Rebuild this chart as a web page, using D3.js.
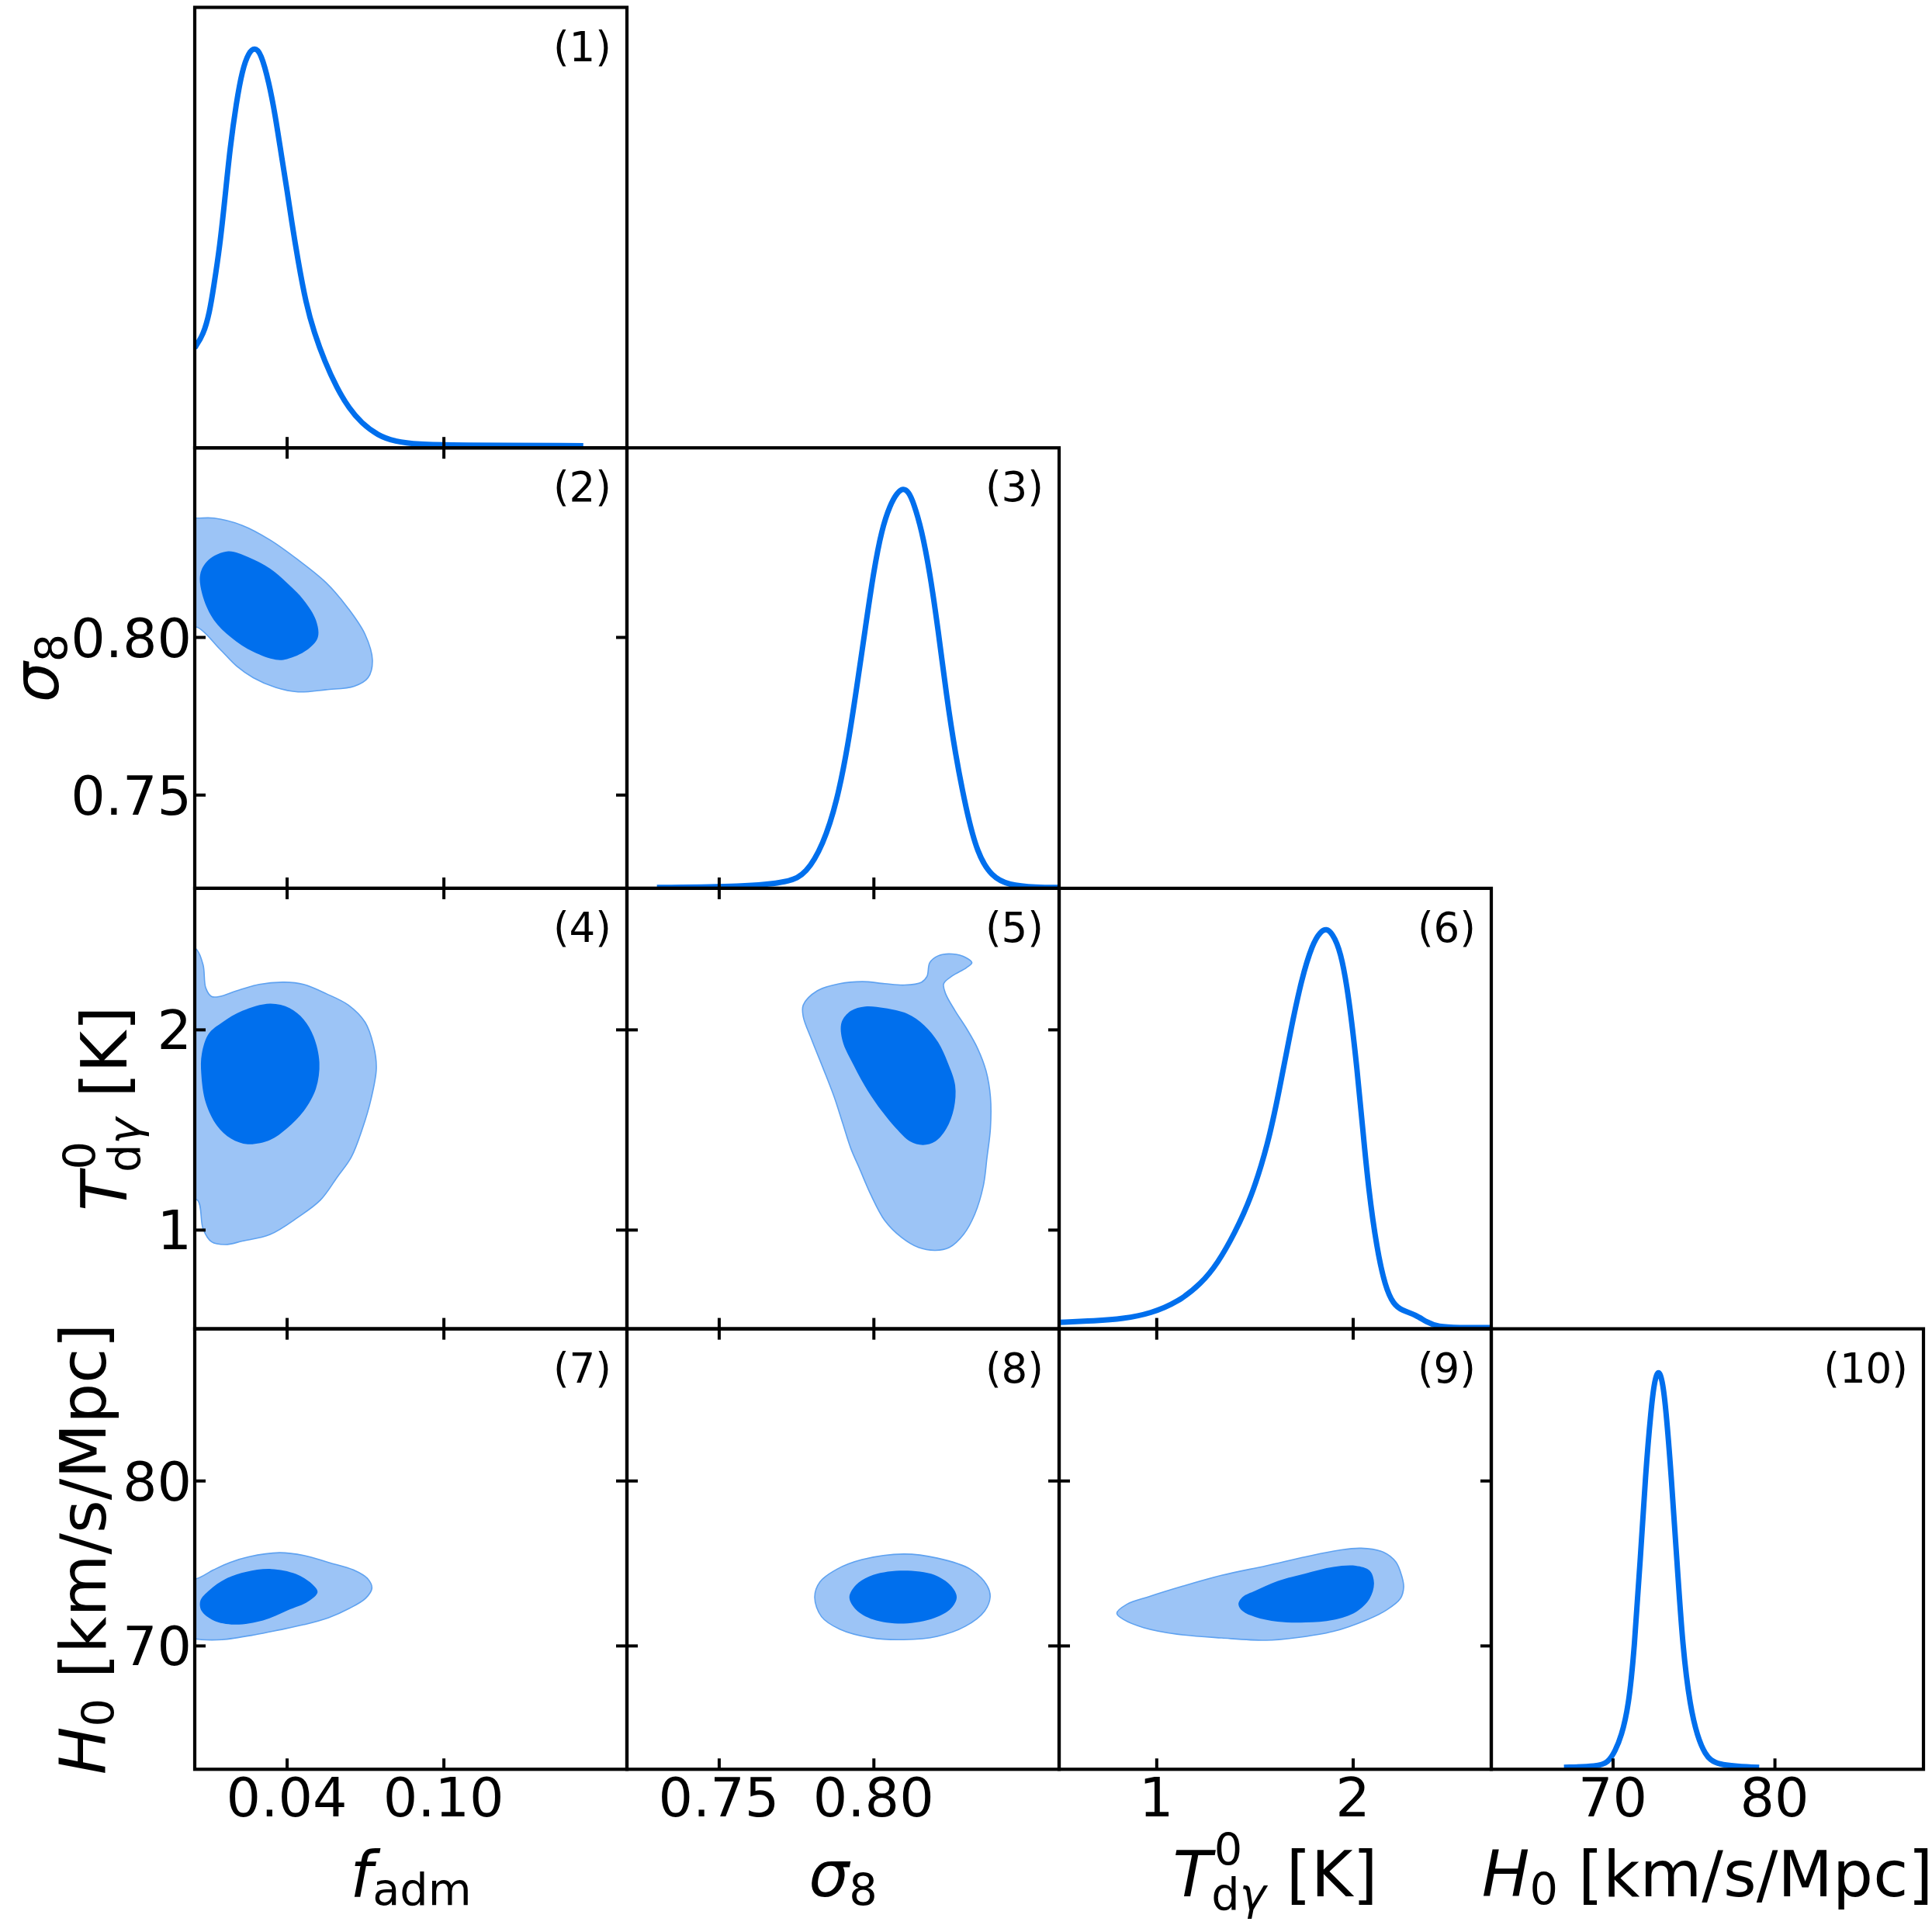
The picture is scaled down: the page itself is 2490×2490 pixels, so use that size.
<!DOCTYPE html>
<html>
<head>
<meta charset="utf-8">
<script src="https://cdn.jsdelivr.net/npm/d3@7"></script>
<style>body{margin:0;background:#fff}</style>
</head>
<body>
<script>
// parameter ranges, ticks
var paramRanges = [[0.0048, 0.1702], [0.7203, 0.8600], [0.505, 2.705], [62.5, 89.2]];
var paramTicks = [[0.04, 0.10], [0.75, 0.80], [1, 2], [70, 80]];
var paramTickText = [["0.04", "0.10"], ["0.75", "0.80"], ["1", "2"], ["70", "80"]];
var panelTags = ["(1)", "(2)", "(3)", "(4)", "(5)", "(6)", "(7)", "(8)", "(9)", "(10)"];

// 1D marginals (normalised to peak = 1)
var pdfFadm = [[0.0048,0.250],[0.0081,0.282],[0.0105,0.339],[0.0120,0.400],[0.0144,0.503],[0.0164,0.626],
  [0.0183,0.749],[0.0207,0.862],[0.0230,0.944],[0.0254,0.987],[0.0277,1.0],[0.0301,0.987],[0.0332,0.913],
  [0.0356,0.831],[0.0380,0.729],[0.0403,0.636],[0.0419,0.565],[0.0442,0.472],[0.0474,0.359],[0.0505,0.288],
  [0.0545,0.216],[0.0592,0.149],[0.0639,0.098],[0.0686,0.062],[0.0749,0.031],[0.0812,0.016],[0.0906,0.0085],
  [0.1032,0.0066],[0.1535,0.0054]];
var pdfSigma8 = [[0.7300,0.002],[0.7582,0.004],[0.7727,0.015],[0.7782,0.036],[0.7837,0.108],[0.7882,0.216],
  [0.7918,0.359],[0.7946,0.503],[0.7973,0.646],[0.8000,0.790],[0.8027,0.898],[0.8054,0.958],[0.8076,0.988],
  [0.8096,1.0],[0.8114,0.990],[0.8130,0.962],[0.8155,0.898],[0.8182,0.790],[0.8209,0.646],[0.8236,0.481],
  [0.8264,0.338],[0.8300,0.194],[0.8336,0.086],[0.8382,0.029],[0.8436,0.008],[0.8527,0.002],[0.8600,0.002]];
var pdfT = [[0.505,0.016],[0.688,0.020],[0.830,0.025],[0.972,0.038],[1.114,0.068],[1.227,0.112],[1.313,0.164],
  [1.398,0.238],[1.483,0.327],[1.568,0.460],[1.625,0.593],[1.682,0.741],[1.739,0.874],[1.795,0.962],[1.835,0.992],
  [1.866,1.0],[1.895,0.988],[1.938,0.945],[1.980,0.830],[2.023,0.645],[2.051,0.497],[2.080,0.349],[2.122,0.201],
  [2.165,0.105],[2.207,0.061],[2.250,0.046],[2.321,0.035],[2.378,0.016],[2.434,0.005],[2.534,0.003],[2.705,0.003]];
var pdfH0 = [[66.99,0.005],[69.07,0.007],[69.71,0.016],[70.16,0.046],[70.53,0.082],[70.98,0.155],[71.34,0.301],
  [71.70,0.520],[72.03,0.739],[72.37,0.900],[72.58,0.970],[72.83,1.0],[73.08,0.970],[73.29,0.900],[73.61,0.739],
  [73.97,0.520],[74.33,0.301],[74.79,0.155],[75.24,0.082],[75.69,0.038],[76.33,0.009],[79.05,0.005]];

// 2D contours: outer (95%) and inner (68%)
var fadmSigma8Outer = [[0.0058,0.8377],[0.0122,0.8377],[0.0230,0.8354],[0.0336,0.8308],[0.0443,0.8245],
  [0.0551,0.8172],[0.0636,0.8090],[0.0700,0.8008],[0.0728,0.7926],[0.0711,0.7871],[0.0658,0.7844],[0.0551,0.7833],
  [0.0443,0.7826],[0.0358,0.7840],[0.0272,0.7871],[0.0208,0.7908],[0.0144,0.7962],[0.0058,0.8031],
  [0.0,0.8031],[0.0,0.8377]];
var fadmSigma8Inner = [[0.0176,0.8272],[0.0251,0.8254],[0.0336,0.8217],[0.0401,0.8172],[0.0465,0.8117],
  [0.0512,0.8053],[0.0519,0.7999],[0.0476,0.7958],[0.0401,0.7930],[0.0358,0.7928],[0.0272,0.7953],[0.0187,0.7999],
  [0.0122,0.8053],[0.0080,0.8126],[0.0069,0.8199],[0.0101,0.8245]];
var fadmTOuter = [[0.0054,2.401],[0.0080,2.322],[0.0090,2.208],[0.0112,2.165],[0.0144,2.165],[0.0208,2.193],
  [0.0294,2.225],[0.0390,2.236],[0.0465,2.225],[0.0551,2.179],[0.0636,2.122],[0.0700,2.036],[0.0732,1.921],
  [0.0743,1.807],[0.0722,1.649],[0.0690,1.506],[0.0647,1.362],[0.0593,1.262],[0.0529,1.148],[0.0443,1.062],
  [0.0336,0.976],[0.0230,0.943],[0.0165,0.926],[0.0112,0.940],[0.0080,1.004],[0.0058,1.148],
  [0.0,1.148],[0.0,2.43]];
var fadmTInner = [[0.0336,2.129],[0.0411,2.107],[0.0465,2.050],[0.0503,1.964],[0.0525,1.835],[0.0512,1.706],
  [0.0465,1.592],[0.0401,1.506],[0.0336,1.448],[0.0251,1.427],[0.0187,1.455],[0.0133,1.520],[0.0090,1.635],
  [0.0073,1.778],[0.0075,1.878],[0.0101,1.978],[0.0154,2.036],[0.0230,2.093]];
var sigma8TOuter = [[0.7773,2.122],[0.7818,2.193],[0.7891,2.229],[0.7964,2.239],[0.8036,2.229],[0.8100,2.222],
  [0.8155,2.236],[0.8173,2.265],[0.8182,2.334],[0.8209,2.368],[0.8255,2.377],[0.8300,2.358],[0.8318,2.334],
  [0.8300,2.308],[0.8255,2.268],[0.8227,2.229],[0.8233,2.179],[0.8264,2.093],[0.8300,2.007],[0.8336,1.907],
  [0.8364,1.792],[0.8378,1.663],[0.8378,1.506],[0.8367,1.362],[0.8355,1.219],[0.8327,1.076],[0.8291,0.976],
  [0.8245,0.911],[0.8200,0.897],[0.8146,0.911],[0.8091,0.961],[0.8036,1.047],[0.7991,1.176],[0.7955,1.305],
  [0.7927,1.405],[0.7900,1.534],[0.7873,1.663],[0.7837,1.807],[0.7800,1.950],[0.7773,2.064]];
var sigma8TInner = [[0.7973,2.115],[0.8036,2.107],[0.8109,2.079],[0.8164,2.021],[0.8209,1.936],[0.8240,1.835],
  [0.8264,1.721],[0.8260,1.606],[0.8236,1.506],[0.8200,1.441],[0.8160,1.423],[0.8118,1.441],[0.8073,1.506],
  [0.8027,1.592],[0.7982,1.692],[0.7936,1.821],[0.7900,1.943],[0.7897,2.036],[0.7927,2.093]];
var fadmH0Outer = [[0.0054,74.05],[0.0120,74.59],[0.0183,75.04],[0.0254,75.38],[0.0372,75.63],[0.0466,75.46],
  [0.0560,75.04],[0.0655,74.59],[0.0710,74.05],[0.0726,73.48],[0.0702,72.87],[0.0639,72.25],[0.0560,71.69],
  [0.0466,71.27],[0.0372,70.95],[0.0277,70.65],[0.0152,70.36],[0.0073,70.36],[0.0054,70.40],
  [0.0,70.40],[0.0,74.05]];
var fadmH0Inner = [[0.0104,73.36],[0.0167,74.05],[0.0246,74.47],[0.0340,74.64],[0.0435,74.34],[0.0497,73.73],
  [0.0518,73.24],[0.0482,72.67],[0.0403,72.13],[0.0309,71.52],[0.0199,71.27],[0.0120,71.52],[0.0073,72.13],
  [0.0070,72.74]];
var sigma8H0Outer = [[0.7810,72.93],[0.7827,73.86],[0.7881,74.62],[0.7963,75.21],[0.8098,75.55],[0.8206,75.30],
  [0.8314,74.62],[0.8368,73.61],[0.8377,72.93],[0.8359,72.09],[0.8296,71.16],[0.8206,70.56],[0.8098,70.36],
  [0.7990,70.48],[0.7891,70.99],[0.7832,71.75]];
var sigma8H0Inner = [[0.7922,72.93],[0.7944,73.69],[0.7999,74.28],[0.8098,74.54],[0.8197,74.28],[0.8251,73.61],
  [0.8269,72.93],[0.8251,72.26],[0.8197,71.67],[0.8098,71.33],[0.7999,71.58],[0.7944,72.17]];
var TH0Outer = [[0.799,71.96],[0.850,72.50],[0.963,72.97],[1.134,73.60],[1.333,74.26],[1.560,74.84],[1.759,75.38],
  [1.929,75.78],[2.043,75.90],[2.156,75.66],[2.219,75.07],[2.248,74.26],[2.259,73.55],[2.242,72.85],[2.171,72.15],
  [2.071,71.56],[1.901,70.86],[1.702,70.46],[1.560,70.32],[1.333,70.46],[1.105,70.69],[0.935,71.09],[0.836,71.56]];
var TH0Inner = [[1.418,72.50],[1.440,72.95],[1.503,73.32],[1.617,73.91],[1.759,74.37],[1.901,74.77],[2.015,74.84],
  [2.086,74.54],[2.108,73.79],[2.086,72.85],[2.015,72.03],[1.901,71.56],[1.759,71.40],[1.617,71.45],[1.503,71.73],
  [1.440,72.08]];

var pdfs = [pdfFadm, pdfSigma8, pdfT, pdfH0];
var contours = {
  "1,0": [fadmSigma8Outer, fadmSigma8Inner],
  "2,0": [fadmTOuter, fadmTInner],
  "2,1": [sigma8TOuter, sigma8TInner],
  "3,0": [fadmH0Outer, fadmH0Inner],
  "3,1": [sigma8H0Outer, sigma8H0Inner],
  "3,2": [TH0Outer, TH0Inner]
};

// layout
var W = 2490, H = 2490;
var left = 251, top0 = 9.5, cellW = 557, cellH = 567.7;
var font = "DejaVu Sans";
var tickLen = 14, frameW = 4.2;
var lineBlue = "#006FED", outerFill = "#9CC4F6", outerEdge = "#5FA2F0";

var svg = d3.select("body").append("svg")
  .attr("width", W).attr("height", H)
  .style("display", "block");

function styleAxis(ag) {
  ag.select(".domain").remove();
  ag.selectAll(".tick line").attr("stroke", "#000").attr("stroke-width", 4);
  ag.selectAll(".tick text").remove();
}

var tagIndex = 0;
for (var i = 0; i < 4; i++) {
  for (var j = 0; j <= i; j++) {
    var g = svg.append("g")
      .attr("transform", "translate(" + (left + j * cellW) + "," + (top0 + i * cellH) + ")");
    var x = d3.scaleLinear().domain(paramRanges[j]).range([0, cellW]);
    var y;
    var clipId = "clip" + i + "_" + j;
    g.append("clipPath").attr("id", clipId)
      .append("rect").attr("width", cellW).attr("height", cellH);
    var body = g.append("g").attr("clip-path", "url(#" + clipId + ")");

    if (i === j) {
      y = d3.scaleLinear().domain([0, 1.1]).range([cellH, 0]);
      var line = d3.line()
        .x(function(d) { return x(d[0]); })
        .y(function(d) { return y(d[1]); })
        .curve(d3.curveBasis);
      body.append("path").datum(pdfs[i])
        .attr("d", line)
        .attr("fill", "none")
        .attr("stroke", lineBlue)
        .attr("stroke-width", 7)
        .attr("stroke-linejoin", "round");
    } else {
      y = d3.scaleLinear().domain(paramRanges[i]).range([cellH, 0]);
      var shape = d3.line()
        .x(function(d) { return x(d[0]); })
        .y(function(d) { return y(d[1]); })
        .curve(d3.curveCatmullRomClosed.alpha(0.5));
      var pair = contours[i + "," + j];
      body.append("path").datum(pair[0])
        .attr("d", shape)
        .attr("fill", outerFill)
        .attr("stroke", outerEdge)
        .attr("stroke-width", 1.6);
      body.append("path").datum(pair[1])
        .attr("d", shape)
        .attr("fill", lineBlue);
    }

    // ticks, pointing inwards
    var ab = g.append("g").attr("transform", "translate(0," + cellH + ")")
      .call(d3.axisBottom(x).tickValues(paramTicks[j]).tickSizeInner(-tickLen).tickSizeOuter(0));
    styleAxis(ab);
    if (i !== j) {
      var at = g.append("g")
        .call(d3.axisTop(x).tickValues(paramTicks[j]).tickSizeInner(-tickLen).tickSizeOuter(0));
      styleAxis(at);
      var al = g.append("g")
        .call(d3.axisLeft(y).tickValues(paramTicks[i]).tickSizeInner(-tickLen).tickSizeOuter(0));
      styleAxis(al);
      var ar = g.append("g").attr("transform", "translate(" + cellW + ",0)")
        .call(d3.axisRight(y).tickValues(paramTicks[i]).tickSizeInner(-tickLen).tickSizeOuter(0));
      styleAxis(ar);
    }

    // tick labels on the outer edge only
    if (i === 3) {
      paramTicks[j].forEach(function(v, k) {
        g.append("text")
          .attr("x", x(v)).attr("y", cellH + 61)
          .attr("text-anchor", "middle")
          .attr("font-family", font).attr("font-size", 70)
          .text(paramTickText[j][k]);
      });
    }
    if (j === 0 && i > 0) {
      paramTicks[i].forEach(function(v, k) {
        g.append("text")
          .attr("x", -4).attr("y", y(v) + 25.5)
          .attr("text-anchor", "end")
          .attr("font-family", font).attr("font-size", 70)
          .text(paramTickText[i][k]);
      });
    }

    g.append("rect")
      .attr("width", cellW).attr("height", cellH)
      .attr("fill", "none").attr("stroke", "#000").attr("stroke-width", frameW);

    g.append("text")
      .attr("x", cellW - 20).attr("y", 69)
      .attr("text-anchor", "end")
      .attr("font-family", font).attr("font-size", 53)
      .text(panelTags[tagIndex++]);
  }
}

// axis labels built from pieces (italic symbols, sub/superscripts)
var labelSize = 82;
function mathLabel(sel, parts) {
  var t = sel.append("text")
    .attr("font-family", font).attr("font-size", labelSize).attr("fill", "#000");
  parts.forEach(function(p) {
    var s = t.append("tspan").text(p.t);
    if (p.it) s.attr("font-style", "italic");
    if (p.small) s.attr("font-size", labelSize * 0.7);
    if (p.dy) s.attr("dy", p.dy);
    if (p.dx) s.attr("dx", p.dx);
  });
  var b = t.node().getBBox();
  t.attr("x", -b.x - b.width / 2);
  return t;
}

var labelParts = [
  [{t: "f", it: 1}, {t: "adm", small: 1, dy: 11}],
  [{t: "\u03c3", it: 1}, {t: "8", small: 1, dy: 12}],
  [{t: "T", it: 1}, {t: "0", small: 1, dy: -40, dx: 3}, {t: "d", small: 1, dy: 57, dx: -40},
   {t: "\u03b3", small: 1, it: 1}, {t: "\u00a0[K]", dy: -17}],
  [{t: "H", it: 1}, {t: "0", small: 1, dy: 11}, {t: "\u00a0[km/s/Mpc]", dy: -11}]
];
var yLabelBase = [0, 75, 163, 136];

for (var k = 0; k < 4; k++) {
  var xg = svg.append("g")
    .attr("transform", "translate(" + (left + (k + 0.5) * cellW) + ",2444)");
  mathLabel(xg, labelParts[k]);
  if (k > 0) {
    var yg = svg.append("g")
      .attr("transform", "translate(" + yLabelBase[k] + "," + (top0 + (k + 0.5) * cellH) + ") rotate(-90)");
    mathLabel(yg, labelParts[k]);
  }
}
</script>
</body>
</html>
